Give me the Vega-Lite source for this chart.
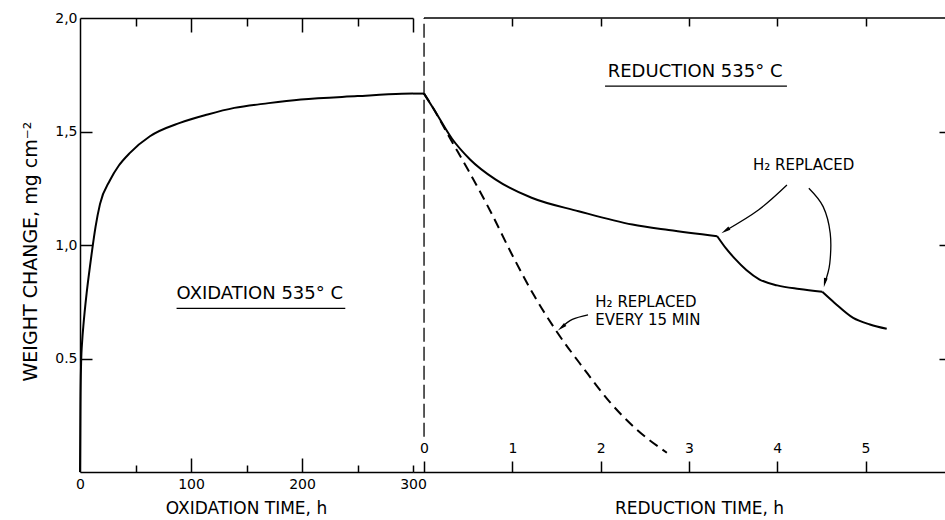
{
  "$schema": "https://vega.github.io/schema/vega-lite/v6.json",
  "width": 865,
  "height": 454,
  "autosize": {"type": "none"},
  "padding": {"left": 80, "top": 18, "right": 0, "bottom": 48},
  "background": "white",
  "config": {
    "view": {"stroke": null},
    "axis": {
      "grid": false,
      "domainColor": "black",
      "tickColor": "black",
      "labelColor": "black",
      "titleColor": "black",
      "labelFont": "DejaVu Sans",
      "titleFont": "DejaVu Sans",
      "labelFontSize": 14,
      "titleFontSize": 17,
      "titleFontWeight": "normal",
      "domainWidth": 1.5,
      "tickWidth": 1.5
    }
  },
  "datasets": {
    "oxidation": [
      {"h": 0, "w": 0},
      {"h": 0.4, "w": 0.3},
      {"h": 1, "w": 0.48},
      {"h": 2, "w": 0.58},
      {"h": 3, "w": 0.642},
      {"h": 6, "w": 0.789},
      {"h": 9, "w": 0.907},
      {"h": 11, "w": 0.98},
      {"h": 14, "w": 1.08},
      {"h": 18, "w": 1.18},
      {"h": 27, "w": 1.285},
      {"h": 35, "w": 1.35},
      {"h": 45, "w": 1.406},
      {"h": 63, "w": 1.479},
      {"h": 90, "w": 1.538},
      {"h": 115, "w": 1.575},
      {"h": 139, "w": 1.604},
      {"h": 170, "w": 1.625},
      {"h": 199, "w": 1.641},
      {"h": 250, "w": 1.656},
      {"h": 290, "w": 1.666},
      {"h": 300, "w": 1.667}
    ],
    "reduction": [
      {"seg": 0, "t": -0.125, "w": 1.667},
      {"seg": 0, "t": 0, "w": 1.667},
      {"seg": 1, "t": 0, "w": 1.667},
      {"seg": 1, "t": 0.113, "w": 1.597},
      {"seg": 1, "t": 0.317, "w": 1.468},
      {"seg": 1, "t": 0.521, "w": 1.377},
      {"seg": 1, "t": 0.808, "w": 1.289},
      {"seg": 1, "t": 1.218, "w": 1.208},
      {"seg": 1, "t": 1.75, "w": 1.149},
      {"seg": 1, "t": 2.36, "w": 1.09},
      {"seg": 1, "t": 2.77, "w": 1.066},
      {"seg": 1, "t": 3.32, "w": 1.039},
      {"seg": 2, "t": 3.32, "w": 1.039},
      {"seg": 2, "t": 3.42, "w": 0.985},
      {"seg": 2, "t": 3.52, "w": 0.94},
      {"seg": 2, "t": 3.65, "w": 0.89},
      {"seg": 2, "t": 3.8, "w": 0.848},
      {"seg": 2, "t": 4.0, "w": 0.822},
      {"seg": 2, "t": 4.25, "w": 0.806},
      {"seg": 2, "t": 4.51, "w": 0.794},
      {"seg": 3, "t": 4.51, "w": 0.794},
      {"seg": 3, "t": 4.65, "w": 0.745},
      {"seg": 3, "t": 4.86, "w": 0.679},
      {"seg": 3, "t": 5.05, "w": 0.65},
      {"seg": 3, "t": 5.24, "w": 0.631}
    ],
    "reductionEvery15": [
      {"t": 0, "w": 1.667},
      {"t": 0.113, "w": 1.597},
      {"t": 0.28, "w": 1.48},
      {"t": 0.5, "w": 1.33},
      {"t": 0.75, "w": 1.15},
      {"t": 1.0, "w": 0.955},
      {"t": 1.25, "w": 0.775},
      {"t": 1.5, "w": 0.62},
      {"t": 1.8, "w": 0.46},
      {"t": 2.1, "w": 0.31},
      {"t": 2.4, "w": 0.19},
      {"t": 2.75, "w": 0.085}
    ],
    "arrows": [
      {"id": "A", "i": 0, "t": 4.11, "w": 1.264},
      {"id": "A", "i": 1, "t": 3.787, "w": 1.154},
      {"id": "A", "i": 2, "t": 3.413, "w": 1.063},
      {"id": "B", "i": 0, "t": 4.358, "w": 1.25},
      {"id": "B", "i": 1, "t": 4.52, "w": 1.169},
      {"id": "B", "i": 2, "t": 4.6, "w": 1.052},
      {"id": "B", "i": 3, "t": 4.595, "w": 0.919},
      {"id": "B", "i": 4, "t": 4.539, "w": 0.834},
      {"id": "C", "i": 0, "t": 1.857, "w": 0.692},
      {"id": "C", "i": 1, "t": 1.68, "w": 0.672},
      {"id": "C", "i": 2, "t": 1.557, "w": 0.637}
    ],
    "heads": [
      {"id": "A", "t": 3.413, "w": 1.063},
      {"id": "B", "t": 4.539, "w": 0.834},
      {"id": "C", "t": 1.557, "w": 0.637}
    ],
    "textO": [{"h": 162, "w": 0.785, "text": "OXIDATION 535° C"}],
    "underO": [{"h1": 87, "h2": 239, "w": 0.721}],
    "textR": [{"t": 3.07, "w": 1.76, "text": "REDUCTION 535° C"}],
    "underR": [{"t1": 2.05, "t2": 4.11, "w": 1.7}],
    "notes": [
      {"t": 3.726, "w": 1.352, "text": "H₂ REPLACED"},
      {"t": 1.94, "w": 0.749, "text": "H₂ REPLACED"},
      {"t": 1.94, "w": 0.67, "text": "EVERY 15 MIN"}
    ]
  },
  "layer": [
    {
      "data": {"name": "oxidation"},
      "mark": {"type": "line", "color": "black", "strokeWidth": 2, "interpolate": "monotone"},
      "encoding": {
        "x": {"field": "h", "type": "quantitative",
          "scale": {"domain": [0, 300], "range": [0, 333], "nice": false, "zero": false},
          "axis": {"orient": "bottom", "values": [0, 100, 200, 300], "ticks": false, "domain": true, "labelPadding": 5, "labelFlush": false, "labelOverlap": false,
            "title": "OXIDATION TIME, h", "titleX": 166, "titleY": 28, "titleBaseline": "top"}},
        "y": {"field": "w", "type": "quantitative",
          "scale": {"domain": [0, 2], "nice": false, "zero": false},
          "axis": {"orient": "left", "values": [0.5, 1, 1.5, 2], "ticks": false, "domain": true, "labelPadding": 3, "labelOverlap": false,
            "labelExpr": "datum.value == 0.5 ? '0.5' : replace(format(datum.value, '.1f'), '.', ',')",
            "title": "WEIGHT CHANGE, mg cm⁻²", "titleFontSize": 19, "titleX": -50, "titleY": 233, "titleBaseline": "middle", "titleAngle": 270}}
      }
    },
    {
      "data": {"name": "underO"},
      "mark": {"type": "rule", "color": "black", "strokeWidth": 1.3},
      "encoding": {
        "x": {"field": "h1", "type": "quantitative",
          "scale": {"domain": [0, 300], "range": [0, 333], "nice": false, "zero": false},
          "axis": {"orient": "bottom", "values": [50, 100, 150, 200, 250, 300], "labels": false, "domain": false, "title": null,
            "tickSize": {"condition": {"test": "datum.value % 100 === 0 && datum.value < 300", "value": -14}, "value": -7}}},
        "x2": {"field": "h2"},
        "y": {"field": "w", "type": "quantitative",
          "scale": {"domain": [0, 2], "nice": false, "zero": false},
          "axis": {"orient": "left", "values": [0.5, 1, 1.5], "labels": false, "domain": false, "title": null, "tickSize": -12}}
      }
    },
    {
      "data": {"name": "textO"},
      "mark": {"type": "text", "font": "DejaVu Sans", "fontSize": 18, "color": "black", "align": "center", "baseline": "middle"},
      "encoding": {
        "x": {"field": "h", "type": "quantitative",
          "scale": {"domain": [0, 300], "range": [0, 333], "nice": false, "zero": false},
          "axis": {"orient": "top", "values": [50, 100, 150, 200, 250, 300], "labels": false, "domain": true, "title": null,
            "tickSize": {"condition": {"test": "datum.value % 100 === 0", "value": -14}, "value": -8}}},
        "y": {"field": "w", "type": "quantitative",
          "scale": {"domain": [0, 2], "nice": false, "zero": false}, "axis": null},
        "text": {"field": "text"}
      }
    },
    {
      "data": {"name": "reduction"},
      "mark": {"type": "line", "color": "black", "strokeWidth": 2, "interpolate": "monotone"},
      "encoding": {
        "x": {"field": "t", "type": "quantitative",
          "scale": {"domain": [-0.125, 5.9], "range": [333, 865], "nice": false, "zero": false},
          "axis": {"orient": "bottom", "values": [0, 1, 2, 3, 4, 5], "ticks": false, "domain": true, "labelPadding": -17, "labelBaseline": "bottom", "labelFlush": false, "labelOverlap": false,
            "title": "REDUCTION TIME, h", "titleX": 619, "titleY": 28, "titleBaseline": "top"}},
        "y": {"field": "w", "type": "quantitative",
          "scale": {"domain": [0, 2], "nice": false, "zero": false},
          "axis": {"orient": "right", "values": [0.5, 1, 1.5], "labels": false, "domain": false, "title": null, "tickSize": -6}},
        "detail": {"field": "seg"}
      }
    },
    {
      "data": {"name": "reductionEvery15"},
      "mark": {"type": "line", "color": "black", "strokeWidth": 2, "interpolate": "monotone", "strokeDash": [10, 6]},
      "encoding": {
        "x": {"field": "t", "type": "quantitative",
          "scale": {"domain": [-0.125, 5.9], "range": [333, 865], "nice": false, "zero": false},
          "axis": {"orient": "bottom", "values": [0, 1, 2, 3, 4, 5], "labels": false, "domain": false, "title": null, "tickSize": -11}},
        "y": {"field": "w", "type": "quantitative",
          "scale": {"domain": [0, 2], "nice": false, "zero": false}, "axis": null}
      }
    },
    {
      "data": {"values": [{}]},
      "mark": {"type": "rule", "color": "black", "strokeWidth": 1.3, "strokeDash": [14, 5]},
      "encoding": {
        "x": {"datum": 0, "type": "quantitative",
          "scale": {"domain": [-0.125, 5.9], "range": [333, 865], "nice": false, "zero": false},
          "axis": {"orient": "top", "values": [1, 2, 3, 4, 5], "labels": false, "domain": false, "title": null, "tickSize": -8}},
        "y": {"datum": 0.155, "type": "quantitative",
          "scale": {"domain": [0, 2], "nice": false, "zero": false}, "axis": null},
        "y2": {"datum": 2}
      }
    },
    {
      "data": {"values": [{}]},
      "mark": {"type": "rule", "color": "black", "strokeWidth": 1.5},
      "encoding": {
        "x": {"datum": 0, "type": "quantitative",
          "scale": {"domain": [-0.125, 5.9], "range": [333, 865], "nice": false, "zero": false}, "axis": null},
        "x2": {"datum": 5.9},
        "y": {"datum": 2, "type": "quantitative",
          "scale": {"domain": [0, 2], "nice": false, "zero": false}, "axis": null}
      }
    },
    {
      "data": {"name": "underR"},
      "mark": {"type": "rule", "color": "black", "strokeWidth": 1.3},
      "encoding": {
        "x": {"field": "t1", "type": "quantitative",
          "scale": {"domain": [-0.125, 5.9], "range": [333, 865], "nice": false, "zero": false}, "axis": null},
        "x2": {"field": "t2"},
        "y": {"field": "w", "type": "quantitative",
          "scale": {"domain": [0, 2], "nice": false, "zero": false}, "axis": null}
      }
    },
    {
      "data": {"name": "textR"},
      "mark": {"type": "text", "font": "DejaVu Sans", "fontSize": 18, "color": "black", "align": "center", "baseline": "middle"},
      "encoding": {
        "x": {"field": "t", "type": "quantitative",
          "scale": {"domain": [-0.125, 5.9], "range": [333, 865], "nice": false, "zero": false}, "axis": null},
        "y": {"field": "w", "type": "quantitative",
          "scale": {"domain": [0, 2], "nice": false, "zero": false}, "axis": null},
        "text": {"field": "text"}
      }
    },
    {
      "data": {"name": "notes"},
      "mark": {"type": "text", "font": "DejaVu Sans", "fontSize": 15, "color": "black", "align": "left", "baseline": "middle"},
      "encoding": {
        "x": {"field": "t", "type": "quantitative",
          "scale": {"domain": [-0.125, 5.9], "range": [333, 865], "nice": false, "zero": false}, "axis": null},
        "y": {"field": "w", "type": "quantitative",
          "scale": {"domain": [0, 2], "nice": false, "zero": false}, "axis": null},
        "text": {"field": "text"}
      }
    },
    {
      "data": {"name": "arrows"},
      "mark": {"type": "line", "color": "black", "strokeWidth": 1.3, "interpolate": "cardinal"},
      "encoding": {
        "x": {"field": "t", "type": "quantitative",
          "scale": {"domain": [-0.125, 5.9], "range": [333, 865], "nice": false, "zero": false}, "axis": null},
        "y": {"field": "w", "type": "quantitative",
          "scale": {"domain": [0, 2], "nice": false, "zero": false}, "axis": null},
        "detail": {"field": "id"},
        "order": {"field": "i"}
      }
    },
    {
      "data": {"name": "heads"},
      "transform": [{"filter": "datum.id == 'A'"}],
      "mark": {"type": "point", "shape": "M0,-1L0.4,1L-0.4,1Z", "filled": true, "color": "black", "size": 90, "opacity": 1, "angle": 237},
      "encoding": {
        "x": {"field": "t", "type": "quantitative",
          "scale": {"domain": [-0.125, 5.9], "range": [333, 865], "nice": false, "zero": false}, "axis": null},
        "y": {"field": "w", "type": "quantitative",
          "scale": {"domain": [0, 2], "nice": false, "zero": false}, "axis": null}
      }
    },
    {
      "data": {"name": "heads"},
      "transform": [{"filter": "datum.id == 'B'"}],
      "mark": {"type": "point", "shape": "M0,-1L0.4,1L-0.4,1Z", "filled": true, "color": "black", "size": 90, "opacity": 1, "angle": 192},
      "encoding": {
        "x": {"field": "t", "type": "quantitative",
          "scale": {"domain": [-0.125, 5.9], "range": [333, 865], "nice": false, "zero": false}, "axis": null},
        "y": {"field": "w", "type": "quantitative",
          "scale": {"domain": [0, 2], "nice": false, "zero": false}, "axis": null}
      }
    },
    {
      "data": {"name": "heads"},
      "transform": [{"filter": "datum.id == 'C'"}],
      "mark": {"type": "point", "shape": "M0,-1L0.4,1L-0.4,1Z", "filled": true, "color": "black", "size": 90, "opacity": 1, "angle": 231},
      "encoding": {
        "x": {"field": "t", "type": "quantitative",
          "scale": {"domain": [-0.125, 5.9], "range": [333, 865], "nice": false, "zero": false}, "axis": null},
        "y": {"field": "w", "type": "quantitative",
          "scale": {"domain": [0, 2], "nice": false, "zero": false}, "axis": null}
      }
    }
  ],
  "resolve": {
    "scale": {"x": "independent"},
    "axis": {"x": "independent", "y": "independent"}
  }
}
